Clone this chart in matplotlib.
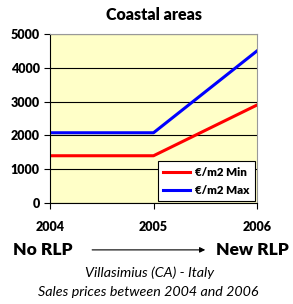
import matplotlib
matplotlib.use("Agg")
import matplotlib.pyplot as plt

years = ["2004", "2005", "2006"]
price_min = [1400, 1400, 2900]
price_max = [2080, 2080, 4500]
yticks = [0, 1000, 2000, 3000, 4000, 5000]

plt.rcParams['font.family'] = ['Lato', 'DejaVu Sans']

fig = plt.figure(figsize=(2.93, 3.04), dpi=100)
ax = fig.add_axes([0.171, 0.332, 0.706, 0.556])
ax.set_facecolor('#FFFFC8')

x = range(len(years))
ax.plot(x, price_min, color='red', lw=2.2, label='€/m2 Min')
ax.plot(x, price_max, color='blue', lw=2.2, label='€/m2 Max')

ax.set_xlim(0, 2)
ax.set_ylim(0, 5000)
ax.set_yticks(yticks)
ax.set_yticklabels([str(v) for v in yticks], fontsize=9, fontweight='heavy')
ax.set_xticks(list(x))
ax.set_xticklabels(years, fontsize=9, fontweight='heavy')
ax.tick_params(axis='x', pad=9, length=4, width=0.8)
ax.tick_params(axis='y', length=4, width=0.8)
ax.grid(axis='y', color='black', lw=0.8)
ax.set_axisbelow(True)
for s in ['top', 'right']:
    ax.spines[s].set_color('#999999')
for s in ['left', 'bottom']:
    ax.spines[s].set_color('black')

leg = ax.legend(loc='lower right', frameon=True, fancybox=False,
                edgecolor='black', framealpha=1, borderaxespad=0.2,
                handlelength=2.4, handletextpad=0.4, labelspacing=0.6,
                borderpad=0.45, prop={'weight': 'heavy', 'size': 8.3})
leg.get_frame().set_linewidth(0.8)

ax.set_title('Coastal areas', fontsize=11.5, fontweight='heavy', pad=10)

fig.text(0.045, 0.176, 'No RLP', fontsize=12.5, fontweight='heavy', va='center', ha='left')
fig.text(0.985, 0.176, 'New RLP', fontsize=12.5, fontweight='heavy', va='center', ha='right')
fig.add_artist(matplotlib.patches.FancyArrowPatch((0.305, 0.178), (0.71, 0.178),
               transform=fig.transFigure, arrowstyle='-|>', mutation_scale=8,
               color='black', lw=0.8))
fig.text(0.51, 0.103, 'Villasimius (CA) - Italy', fontsize=10.3, style='italic', ha='center', va='center')
fig.text(0.505, 0.038, 'Sales prices between 2004 and 2006', fontsize=10.3, style='italic', ha='center', va='center')

fig.savefig('out.png', dpi=100)
